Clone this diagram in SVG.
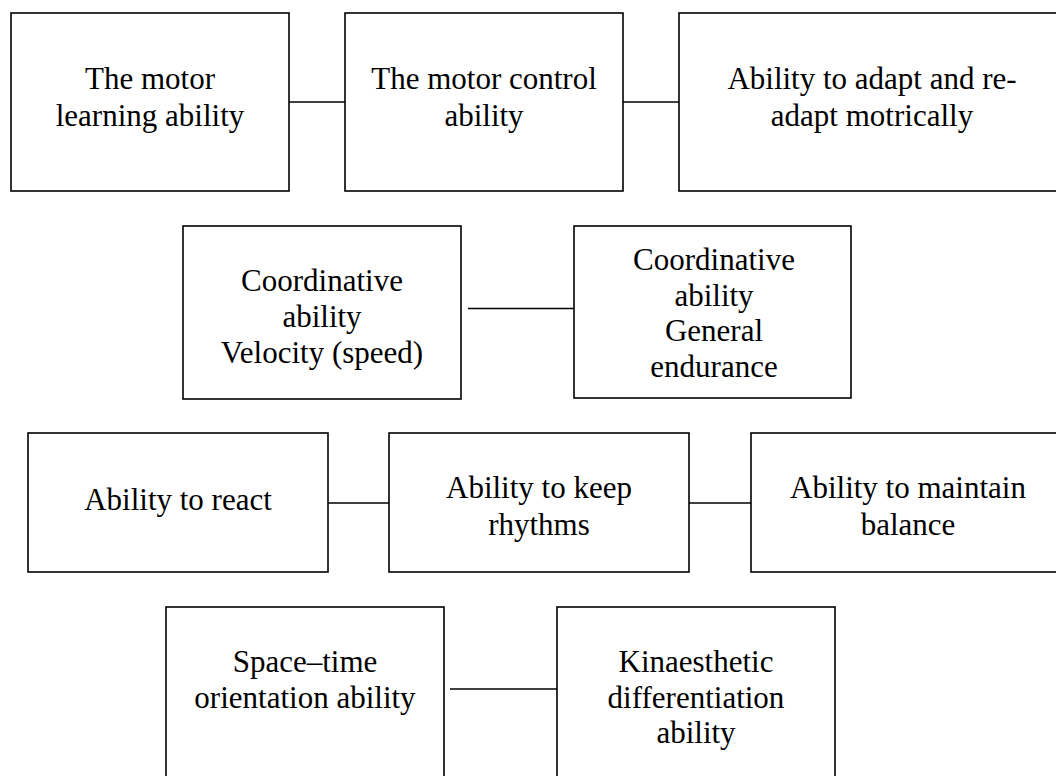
<svg xmlns="http://www.w3.org/2000/svg" width="1056" height="776" viewBox="0 0 1056 776">
<style>
.box{fill:#fff;stroke:#000;stroke-width:1.6}
.ln{stroke:#000;stroke-width:1.6;fill:none}
text{font-family:"Liberation Serif","Times New Roman",serif;font-size:31px;fill:#000;text-anchor:middle}
</style>
<rect width="1056" height="776" fill="#fff"/>
<g id="connectors">
<line class="ln" x1="289" y1="102" x2="345" y2="102"/>
<line class="ln" x1="623" y1="102" x2="679" y2="102"/>
<line class="ln" x1="468" y1="308.5" x2="574" y2="308.5"/>
<line class="ln" x1="328" y1="503" x2="389" y2="503"/>
<line class="ln" x1="689" y1="503" x2="751" y2="503"/>
<line class="ln" x1="450" y1="689" x2="557" y2="689"/>
</g>
<g id="n1"><rect class="box" x="11" y="13" width="278" height="178"/>
<text x="150" y="89">The motor</text><text x="150" y="126">learning ability</text></g>
<g id="n2"><rect class="box" x="345" y="13" width="278" height="178"/>
<text x="484" y="89">The motor control</text><text x="484" y="126">ability</text></g>
<g id="n3"><rect class="box" x="679" y="13" width="386" height="178"/>
<text x="872" y="89">Ability to adapt and re-</text><text x="872" y="126">adapt motrically</text></g>
<g id="n4"><rect class="box" x="183" y="226" width="278" height="173"/>
<text x="322" y="291">Coordinative</text><text x="322" y="327">ability</text><text x="322" y="363">Velocity (speed)</text></g>
<g id="n5"><rect class="box" x="574" y="226" width="277" height="172"/>
<text x="714" y="270">Coordinative</text><text x="714" y="305.5">ability</text><text x="714" y="341">General</text><text x="714" y="376.5">endurance</text></g>
<g id="n6"><rect class="box" x="28" y="433" width="300" height="139"/>
<text x="178" y="510">Ability to react</text></g>
<g id="n7"><rect class="box" x="389" y="433" width="300" height="139"/>
<text x="539" y="498">Ability to keep</text><text x="539" y="535">rhythms</text></g>
<g id="n8"><rect class="box" x="751" y="433" width="314" height="139"/>
<text x="908" y="498">Ability to maintain</text><text x="908" y="535">balance</text></g>
<g id="n9"><rect class="box" x="166" y="607" width="278" height="190"/>
<text x="305" y="672">Space–time</text><text x="305" y="708">orientation ability</text></g>
<g id="n10"><rect class="box" x="557" y="607" width="278" height="190"/>
<text x="696" y="672">Kinaesthetic</text><text x="696" y="708">differentiation</text><text x="696" y="743">ability</text></g>
</svg>
